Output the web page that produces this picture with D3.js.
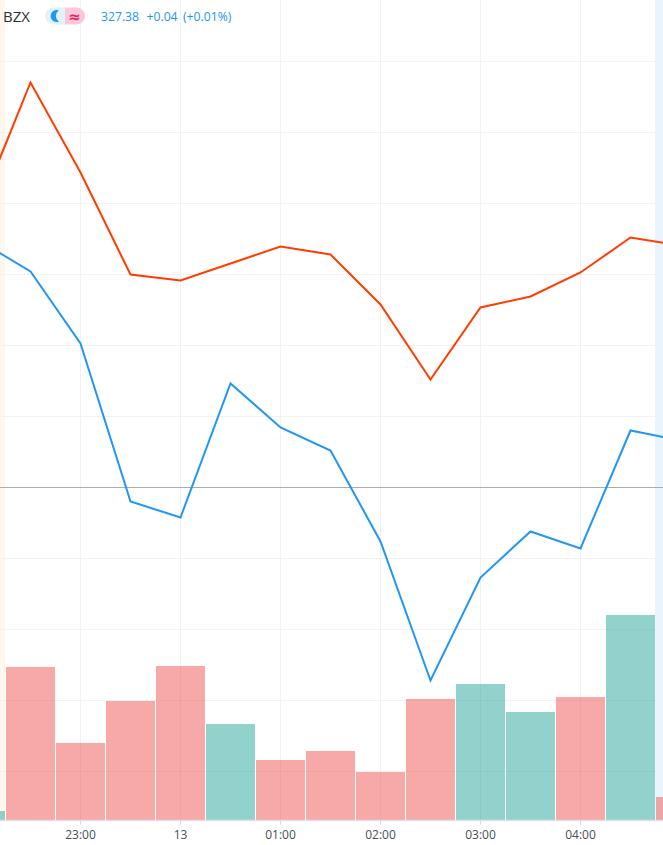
<!DOCTYPE html>
<html><head><meta charset="utf-8">
<script src="https://cdn.jsdelivr.net/npm/d3@7"></script>
<style>html,body{margin:0;padding:0;background:#fff;overflow:hidden}svg{display:block}text{font-family:"Open Sans",sans-serif}</style>
</head><body><div id="c"></div>
<script>
const symbol = "BZX";
const lastPrice = "327.38", change = "+0.04", changePct = "(+0.01%)";
const halfHours = [-2,-1,0,1,2,3,4,5,6,7,8,9,10,11,12]; // half-hour steps relative to 23:00
const redLine = [327.565,327.664,327.592,327.5104,327.5056,327.5192,327.5328,327.5264,327.4864,327.4264,327.484,327.4928,327.512,327.54,327.5336];
const blueLine = [327.5368,327.5128,327.4552,327.3288,327.316,327.4232,327.388,327.3696,327.2968,327.1856,327.268,327.3048,327.2912,327.3856,327.3776];
const volume = [90,1530,770,1190,1540,960,600,690,480,1210,1360,1080,1230,2050,230];
const volumeUp = [1,0,0,0,0,1,0,0,0,0,1,1,0,1,0];
const baseline = 327.34;
const gridPrices = [327.6808,327.624,327.5672,327.5104,327.4536,327.3968,327.2832,327.2264,327.1696,327.1128];
const tickSteps = [0,2,4,6,8,10];
const tickLabels = ["23:00","13","01:00","02:00","03:00","04:00"];
const W=663,H=845,bottom=820.5;
const t0=new Date(2020,0,12,23,0);
const toTime=s=>new Date(+t0+s*18e5);
const x=d3.scaleTime().domain([toTime(0),toTime(1)]).range([80.5,130.5]);
const y=d3.scaleLinear().domain([baseline,baseline+0.4]).range([487.5,-12.5]);
const yv=d3.scaleLinear().domain([0,2050]).range([820,615]);
const svg=d3.select("#c").append("svg").attr("width",W).attr("height",H);
const defs=svg.append("defs");
defs.append("clipPath").attr("id","plot").append("rect").attr("width",W).attr("height",820);
const plot=svg.append("g").attr("clip-path","url(#plot)");
// session bands
plot.append("rect").attr("x",0).attr("y",0).attr("width",x(toTime(-1))-25.5).attr("height",820).attr("fill","#fff7ec");
plot.append("rect").attr("x",x(toTime(12))-25.5).attr("y",0).attr("width",30).attr("height",820).attr("fill","#eaf4fc");
// grid
plot.append("g").selectAll("line").data(tickSteps).join("line")
 .attr("x1",d=>x(toTime(d))).attr("x2",d=>x(toTime(d))).attr("y1",0).attr("y2",820).attr("stroke","#f0f1f4");
plot.append("g").selectAll("line").data(gridPrices).join("line")
 .attr("x1",0).attr("x2",W).attr("y1",d=>y(d)).attr("y2",d=>y(d)).attr("stroke","#f1f2f4");
plot.append("line").attr("x1",0).attr("x2",W).attr("y1",y(baseline)).attr("y2",y(baseline)).attr("stroke","#acacb1");
// volume
plot.append("g").selectAll("rect").data(halfHours).join("rect")
 .attr("x",d=>x(toTime(d))-24.5).attr("width",49)
 .attr("y",(d,i)=>yv(volume[i])).attr("height",(d,i)=>820-yv(volume[i]))
 .attr("fill",(d,i)=>volumeUp[i]?"#26a69a":"#ef5350").attr("fill-opacity",.5);
// lines
const line=d3.line().x((d,i)=>x(toTime(halfHours[i]))).y(d=>y(d));
plot.append("path").attr("d",line(redLine)).attr("fill","none").attr("stroke","#ff3d00").attr("stroke-width",2);
plot.append("path").attr("d",line(blueLine)).attr("fill","none").attr("stroke","#2196f3").attr("stroke-width",2);
// axis
const ax=d3.axisBottom(x).offset(0).tickValues(tickSteps.map(toTime)).tickFormat((d,i)=>tickLabels[i]).tickSizeInner(4).tickSizeOuter(0).tickPadding(6);
const g=svg.append("g").attr("transform",`translate(0,${bottom})`).call(ax);
g.select(".domain").remove();
g.append("line").attr("x1",0).attr("x2",W).attr("stroke","#dfe1e6").attr("stroke-width",1.5);
g.selectAll(".tick line").attr("stroke","#d5d7dc");
g.selectAll("text").attr("fill","#4a4e57").style("font-family","'Open Sans',sans-serif").style("font-size","12px");
// legend
svg.append("text").attr("x",3).attr("y",21.5).text(symbol).attr("fill","#2b2f38").style("font-size","15px");
const pill=svg.append("g");
pill.append("path").attr("d","M65 7.5H53.5a8.5 8.5 0 0 0 0 17H65Z").attr("fill","#e3f1fd");
pill.append("path").attr("d","M65 7.5H76.5a8.5 8.5 0 0 1 0 17H65Z").attr("fill","#fcc9d8");
pill.append("path").attr("d","M59 10.5a6 6 0 1 0 0 11a6.5 6.5 0 0 1 0-11Z").attr("fill","#2196f3");
pill.append("text").attr("x",74.5).attr("y",21.5).attr("text-anchor","middle").text("≈").attr("fill","#e91e63").style("font-family","'DejaVu Sans',sans-serif").style("font-size","15px").style("font-weight","700");
const lg=svg.append("g").attr("fill","#2196f3");
[[101,lastPrice],[146.5,change],[183,changePct]].forEach(([px,s])=>lg.append("text").attr("x",px).attr("y",21).text(s).style("font-size","12.2px"));
</script></body></html>
